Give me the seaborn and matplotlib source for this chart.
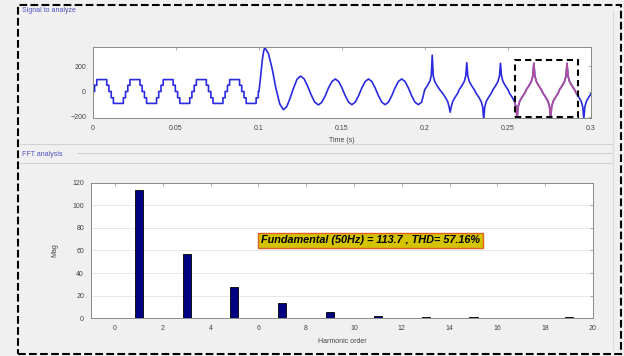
import matplotlib
matplotlib.use('Agg')
import matplotlib.pyplot as plt
from matplotlib.patches import Rectangle
from matplotlib.lines import Line2D
import pandas as pd
import seaborn as sns

# ---- signal, part 1 (0 - 0.1 s): one staircase cycle, repeated
stair_levels = [0, 50, 95, 50, 0, -50, -95, -50, 0]
stair_ms = [1.0, 1.3, 6.0, 1.3, 1.4, 1.3, 6.0, 1.3, 0.4]
n_stair_cycles = 5

# ---- signal, part 2 (0.1 - 0.2 s): transient then steady sine
sine_t = [0.1010, 0.1020, 0.1028, 0.1035, 0.1057, 0.1080, 0.1102, 0.1125,
          0.1147, 0.1168, 0.1188, 0.1209, 0.1229, 0.1250, 0.1272, 0.1293,
          0.1315, 0.1336, 0.1358, 0.1378, 0.1399, 0.1419, 0.1440,
          0.146, 0.148, 0.150, 0.152, 0.154, 0.156, 0.158, 0.160, 0.162,
          0.164, 0.166, 0.168, 0.170, 0.172, 0.174, 0.176, 0.178, 0.180,
          0.182, 0.184, 0.186, 0.188, 0.190, 0.192, 0.194, 0.196, 0.198]
sine_v = [120, 250, 320, 350, 303, 179, 26, -98,
          -145, -119, -52, 30, 97, 123, 101, 44,
          -28, -85, -107, -87, -36, 29, 80,
          100, 80, 29, -34, -85, -105, -85, -34, 29,
          80, 100, 80, 29, -34, -85, -105, -85, -34,
          29, 80, 100, 80, 29, -34, -85, -105, -85]

# ---- signal, part 3 (0.2 - 0.3 s): spiky waveform
up_t = [0.2044, 0.2252, 0.2455, 0.2656, 0.2856]
up_v = [290, 230, 225, 225, 225]
dn_t = [0.2152, 0.2354, 0.2555, 0.2757, 0.2957]
dn_v = [-165, -225, -215, -215, -220]
cusp_dt = [-0.0045, -0.003, -0.0015, -0.0006, 0.0, 0.0006, 0.0015, 0.003, 0.0045]
cusp_side = [15, 45, 80, 125, 0, 125, 80, 45, 15]

# analysis window (highlighted)
win_start, win_end = 0.2535, 0.2925

# ---- FFT
harm_order = list(range(0, 21))
harm_mag = [0.3, 113.7, 0.2, 56.8, 0.2, 27.9, 0.2, 13.1, 0.2, 5.0, 0.1,
            2.0, 0.1, 1.0, 0.1, 0.5, 0.1, 0.3, 0.1, 0.5, 0.1]

# build the time signal
ts, vs = [], []
t0 = 0.0
for c in range(n_stair_cycles):
    for lev, ms in zip(stair_levels, stair_ms):
        ts += [t0, t0 + ms / 1000]
        vs += [lev, lev]
        t0 += ms / 1000
ts += sine_t
vs += sine_v
for tp, vp, td, vd in zip(up_t, up_v, dn_t, dn_v):
    for dt, s in zip(cusp_dt, cusp_side):
        ts.append(tp + dt)
        vs.append(vp if dt == 0 else s)
    for dt, s in zip(cusp_dt, cusp_side):
        ts.append(td + dt)
        vs.append(vd if dt == 0 else -s)
sig = pd.DataFrame({'t': ts, 'v': vs})
win = sig[(sig.t >= win_start) & (sig.t <= win_end)]

sns.set_theme(style='white')
plt.rcParams['font.family'] = ['Liberation Sans', 'DejaVu Sans']
bg = '#f0f0f0'
tick_col = '#444444'

fig = plt.figure(figsize=(6.24, 3.56), dpi=100, facecolor=bg)

# ---------------- top: signal
ax1 = fig.add_axes([0.149, 0.669, 0.798, 0.199])
sns.lineplot(data=sig, x='t', y='v', sort=False, estimator=None,
             color='#2a2ae0', linewidth=1.2, ax=ax1)
sns.lineplot(data=win, x='t', y='v', sort=False, estimator=None,
             color='#b0509c', linewidth=1.2, ax=ax1)
ax1.add_patch(Rectangle((0.2545, -205), 0.038, 455, fill=False, ec='black',
                        lw=1.5, ls=(0, (3, 2)), clip_on=False, zorder=5))
ax1.set_xlim(0, 0.3)
ax1.set_ylim(-210, 355)
ax1.set_xticks([0, 0.05, 0.1, 0.15, 0.2, 0.25, 0.3])
ax1.set_xticklabels(['0', '0.05', '0.1', '0.15', '0.2', '0.25', '0.3'])
ax1.set_yticks([-200, 0, 200])
ax1.set_xlabel('Time (s)', fontsize=5, color=tick_col, labelpad=4)
ax1.set_ylabel('')

# ---------------- bottom: FFT bars
ax2 = fig.add_axes([0.1458, 0.1067, 0.8045, 0.3793])
sns.barplot(x=harm_order, y=harm_mag, native_scale=True, width=0.34,
            color='#000080', saturation=1, edgecolor='black', linewidth=0.6,
            ax=ax2)
ax2.set_xlim(-1, 20)
ax2.set_ylim(0, 120)
ax2.set_xticks(range(0, 21, 2))
ax2.set_yticks(range(0, 121, 20))
ax2.yaxis.grid(True, color='#e4e4e4', lw=0.6)
ax2.set_axisbelow(True)
ax2.set_xlabel('Harmonic order', fontsize=5, color=tick_col, labelpad=4)
ax2.set_ylabel('Mag', fontsize=5, color=tick_col, labelpad=10)
ax2.text(10.7, 69, 'Fundamental (50Hz) = 113.7 , THD= 57.16%',
         ha='center', va='center', fontsize=7.8, fontweight='bold',
         fontstyle='italic', color='black',
         bbox=dict(boxstyle='square,pad=0.25', fc='#d4c400', ec='#e06020', lw=1))

for ax in (ax1, ax2):
    ax.set_facecolor('white')
    for s in ax.spines.values():
        s.set_color('#8a8a8a')
        s.set_linewidth(0.7)
    ax.tick_params(direction='in', length=2.5, width=0.5, colors='#8a8a8a',
                   labelcolor=tick_col, labelsize=5, top=True, right=True,
                   pad=5)

# panel titles and panel borders
fig.text(22 / 624, 1 - 10 / 356, 'Signal to analyze', fontsize=5,
         color='#5050c0', va='center')
fig.text(22 / 624, 1 - 154 / 356, 'FFT analysis', fontsize=5,
         color='#5050c0', va='center')
for y, x0 in [(144, 20), (153, 77), (163, 20)]:
    fig.add_artist(Line2D([x0 / 624, 613 / 624], [1 - y / 356, 1 - y / 356],
                          color='#d2d2d2', lw=0.8))
fig.add_artist(Line2D([613 / 624, 613 / 624], [1 - 10 / 356, 1 - 350 / 356],
                      color='#dcdcdc', lw=0.8))

# outer dashed frame
fig.add_artist(Rectangle((18 / 624, 2 / 356), 603 / 624, 349 / 356,
                         fill=False, ec='black', lw=1.5, ls='--',
                         transform=fig.transFigure))

fig.savefig('out.png', dpi=100, facecolor=bg)
